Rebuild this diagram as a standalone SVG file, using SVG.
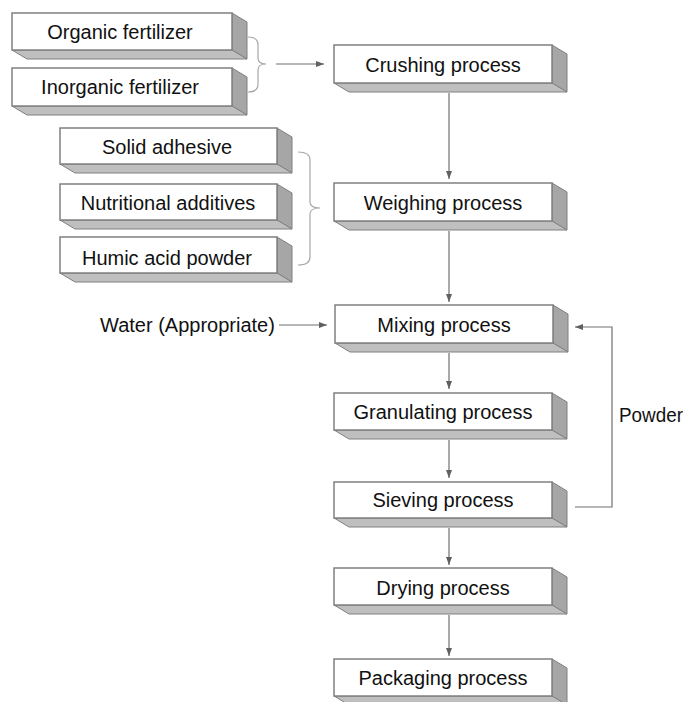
<svg xmlns="http://www.w3.org/2000/svg" width="686" height="702" viewBox="0 0 686 702">
<defs>
<style>
.front{fill:#ffffff;stroke:#808080;stroke-width:1.5}
.side{fill:#a6a6a6;stroke:#808080;stroke-width:1}
.bot{fill:#bfbfbf;stroke:#808080;stroke-width:1}
.t{font-family:"Liberation Sans",Arial,sans-serif;font-size:20px;fill:#111111;text-anchor:middle;dominant-baseline:central}
.tl{font-family:"Liberation Sans",Arial,sans-serif;font-size:20px;fill:#111111;dominant-baseline:central}
.ln{fill:none;stroke:#707070;stroke-width:1.2}
.br{fill:none;stroke:#a8a8a8;stroke-width:1.2}
</style>
<marker id="ah" viewBox="0 0 8 6" refX="8" refY="3" markerWidth="8" markerHeight="6" markerUnits="userSpaceOnUse" orient="auto">
<path d="M0,0 L8,3 L0,6 z" fill="#606060"/>
</marker>
</defs>
<rect width="686" height="702" fill="#ffffff"/>

<g id="organic">
<polygon class="side" points="232,13 247,22 247,59 232,50"/>
<polygon class="bot" points="12,50 232,50 247,59 27,59"/>
<rect class="front" x="12" y="13" width="220" height="37"/>
<text class="t" x="120" y="32">Organic fertilizer</text>
</g>
<g id="inorganic">
<polygon class="side" points="232,68 247,77 247,115 232,106"/>
<polygon class="bot" points="12,106 232,106 247,115 27,115"/>
<rect class="front" x="12" y="68" width="220" height="38"/>
<text class="t" x="120" y="87">Inorganic fertilizer</text>
</g>
<g id="solid">
<polygon class="side" points="277,128 292,137 292,173 277,164"/>
<polygon class="bot" points="60,164 277,164 292,173 75,173"/>
<rect class="front" x="60" y="128" width="217" height="36"/>
<text class="t" x="167" y="147">Solid adhesive</text>
</g>
<g id="nutritional">
<polygon class="side" points="277,184 292,193 292,229 277,220"/>
<polygon class="bot" points="60,220 277,220 292,229 75,229"/>
<rect class="front" x="60" y="184" width="217" height="36"/>
<text class="t" x="168" y="203">Nutritional additives</text>
</g>
<g id="humic">
<polygon class="side" points="277,237 292,246 292,282 277,273"/>
<polygon class="bot" points="60,273 277,273 292,282 75,282"/>
<rect class="front" x="60" y="237" width="217" height="36"/>
<text class="t" x="167" y="258">Humic acid powder</text>
</g>

<g id="crushing">
<polygon class="side" points="552,45 567,54 567,92 552,83"/>
<polygon class="bot" points="334,83 552,83 567,92 349,92"/>
<rect class="front" x="334" y="45" width="218" height="38"/>
<text class="t" x="443" y="65">Crushing process</text>
</g>
<g id="weighing">
<polygon class="side" points="552,183 567,192 567,230 552,221"/>
<polygon class="bot" points="334,221 552,221 567,230 349,230"/>
<rect class="front" x="334" y="183" width="218" height="38"/>
<text class="t" x="443" y="203">Weighing process</text>
</g>
<g id="mixing">
<polygon class="side" points="553,305 568,314 568,352 553,343"/>
<polygon class="bot" points="335,343 553,343 568,352 350,352"/>
<rect class="front" x="335" y="305" width="218" height="38"/>
<text class="t" x="444" y="325">Mixing process</text>
</g>
<g id="granulating">
<polygon class="side" points="552,393 567,402 567,439 552,430"/>
<polygon class="bot" points="334,430 552,430 567,439 349,439"/>
<rect class="front" x="334" y="393" width="218" height="37"/>
<text class="t" x="443" y="412">Granulating process</text>
</g>
<g id="sieving">
<polygon class="side" points="552,482 567,491 567,527 552,518"/>
<polygon class="bot" points="334,518 552,518 567,527 349,527"/>
<rect class="front" x="334" y="482" width="218" height="36"/>
<text class="t" x="443" y="500">Sieving process</text>
</g>
<g id="drying">
<polygon class="side" points="552,568 567,577 567,614 552,605"/>
<polygon class="bot" points="334,605 552,605 567,614 349,614"/>
<rect class="front" x="334" y="568" width="218" height="37"/>
<text class="t" x="443" y="588">Drying process</text>
</g>
<g id="packaging">
<polygon class="side" points="552,659 567,668 567,705 552,696"/>
<polygon class="bot" points="334,696 552,696 567,705 349,705"/>
<rect class="front" x="334" y="659" width="218" height="37"/>
<text class="t" x="443" y="678">Packaging process</text>
</g>

<g id="water">
<text class="tl" x="100" y="325">Water (Appropriate)</text>
</g>
<g id="powder">
<text class="tl" x="619" y="415" font-size="19" textLength="64" lengthAdjust="spacingAndGlyphs">Powder</text>
</g>

<g id="connectors">
<path class="br" d="M248,37 Q258,37 258,45 L258,58 Q258,64 266,64 Q258,64 258,70 L258,84 Q258,92 248,92"/>
<path class="br" d="M298,152 Q310,152 310,160 L310,202 Q310,208 320,208 Q310,208 310,214 L310,257 Q310,265 298,265"/>
<line class="ln" x1="276" y1="64" x2="324" y2="64" marker-end="url(#ah)"/>
<line class="ln" x1="279" y1="325" x2="327" y2="325" marker-end="url(#ah)"/>
<line class="ln" x1="449" y1="93" x2="449" y2="179" marker-end="url(#ah)"/>
<line class="ln" x1="449" y1="231" x2="449" y2="302" marker-end="url(#ah)"/>
<line class="ln" x1="449" y1="353" x2="449" y2="389" marker-end="url(#ah)"/>
<line class="ln" x1="449" y1="440" x2="449" y2="478" marker-end="url(#ah)"/>
<line class="ln" x1="449" y1="528" x2="449" y2="565" marker-end="url(#ah)"/>
<line class="ln" x1="449" y1="615" x2="449" y2="656" marker-end="url(#ah)"/>
<polyline class="ln" points="575,507 612,507 612,327 575,327" marker-end="url(#ah)"/>
</g>
</svg>
